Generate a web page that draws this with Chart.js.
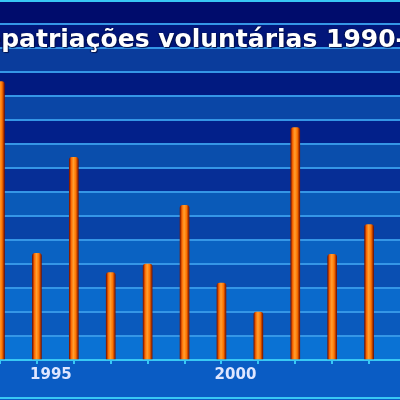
<!DOCTYPE html>
<html>
<head>
<meta charset="utf-8">
<script src="https://cdn.jsdelivr.net/npm/chart.js@4/dist/chart.umd.min.js"></script>
<style>
  html, body { margin: 0; padding: 0; background: #0a5cc4; }
  #frame { position: relative; width: 400px; height: 400px; overflow: hidden; }
  #box { position: absolute; left: -2px; top: 0; width: 442px; height: 400px; }
  #title {
    position: absolute; left: -35px; top: 27px; z-index: 3;
    white-space: nowrap; color: #fff;
    font: bold 25px "DejaVu Sans", sans-serif; line-height: 24px;
    text-shadow: 1px 1px 1px #00114a, -1px 0 1px #00114a;
  }
  #frame::before, #frame::after {
    content: ''; position: absolute; left: 0; right: 0; height: 2px;
    background: #38c8f4; z-index: 2;
  }
  #frame::before { top: 0; }
  #frame::after { bottom: 1px; }
</style>
</head>
<body>
<div id="frame">
  <div id="box"><canvas id="chart"></canvas></div>
  <div id="title">Repatriações voluntárias 1990-2005</div>
</div>
<script>
// Voluntary repatriations, millions
const years = ['1994', '1995', '1996', '1997', '1998', '1999', '2000', '2001', '2002', '2003', '2004', '2005'];
const returnees = [2.90, 1.11, 2.11, 0.91, 1.00, 1.61, 0.80, 0.50, 2.42, 1.10, 1.41, null];
const tickYears = ['1995', '2000', '2005'];
const yMax = 3.75;
const yStep = 0.25;

// band fills, bottom band first
const bandColors = [
    '#0a72d4', '#0a5abd', '#0a6acc', '#0a4fb2', '#0a62c2', '#0842a6', '#0a5ab8',
    '#062e96', '#0a4eac', '#02208a', '#0a46a6', '#011a80', '#0a3c9c', '#02167a', '#000c6c'
];

// ── Striped background behind the plot ───────────────────
const bands = {
    id: 'bands',
    beforeDraw(chart) {
        const { ctx, chartArea: a, scales: { y } } = chart;
        ctx.save();
        ctx.fillStyle = '#0a5cc4';
        ctx.fillRect(0, 0, chart.width, chart.height);
        for (let i = 1; i < y.ticks.length; i++) {
            const top = y.getPixelForValue(y.ticks[i].value);
            const bottom = y.getPixelForValue(y.ticks[i - 1].value);
            ctx.fillStyle = bandColors[(i - 1) % bandColors.length];
            ctx.fillRect(0, top, chart.width, bottom - top);
        }
        ctx.restore();
    }
};

// cylinder look for each bar
function barFill(c) {
    const bar = c.element;
    if (!bar || bar.x == null || isNaN(bar.x)) return '#ff7f00';
    const w = bar.width || 9;
    const g = c.chart.ctx.createLinearGradient(bar.x - w / 2, 0, bar.x + w / 2, 0);
    g.addColorStop(0, '#7a1400');
    g.addColorStop(0.22, '#ff6a00');
    g.addColorStop(0.45, '#ffa030');
    g.addColorStop(0.72, '#ff7400');
    g.addColorStop(1, '#7a1400');
    return g;
}

const chart = new Chart(document.getElementById('chart'), {
    type: 'bar',
    data: {
        labels: years,
        datasets: [{
            data: returnees,
            backgroundColor: barFill,
            borderWidth: 0,
            borderRadius: { topLeft: 3, topRight: 3 },
            borderSkipped: 'bottom',
            barThickness: 9
        }]
    },
    options: {
        responsive: true,
        maintainAspectRatio: false,
        animation: false,
        layout: { padding: { left: 2, right: 34, top: 0, bottom: 14 } },
        plugins: {
            legend: { display: false },
            tooltip: { enabled: false }
        },
        scales: {
            x: {
                offset: false,
                grid: {
                    offset: false,
                    drawOnChartArea: false,
                    drawTicks: true,
                    tickLength: 4,
                    color: '#38c8f4',
                    lineWidth: 2
                },
                border: { display: true, color: '#38c8f4', width: 2 },
                ticks: {
                    autoSkip: false,
                    maxRotation: 0,
                    minRotation: 0,
                    padding: 2,
                    labelOffset: 14,
                    color: '#dfe6ff',
                    font: { family: 'DejaVu Sans', size: 15, weight: 'bold' },
                    callback: function (v) {
                        const lbl = this.getLabelForValue(v);
                        return tickYears.includes(lbl) ? lbl : '';
                    }
                }
            },
            y: {
                min: 0,
                max: yMax,
                grid: { color: '#3596e6', lineWidth: 2, drawTicks: false },
                border: { display: false },
                ticks: { display: false, stepSize: yStep }
            }
        }
    },
    plugins: [bands]
});

// second pass so the bar gradients know where each bar sits
chart.update();
</script>
</body>
</html>
